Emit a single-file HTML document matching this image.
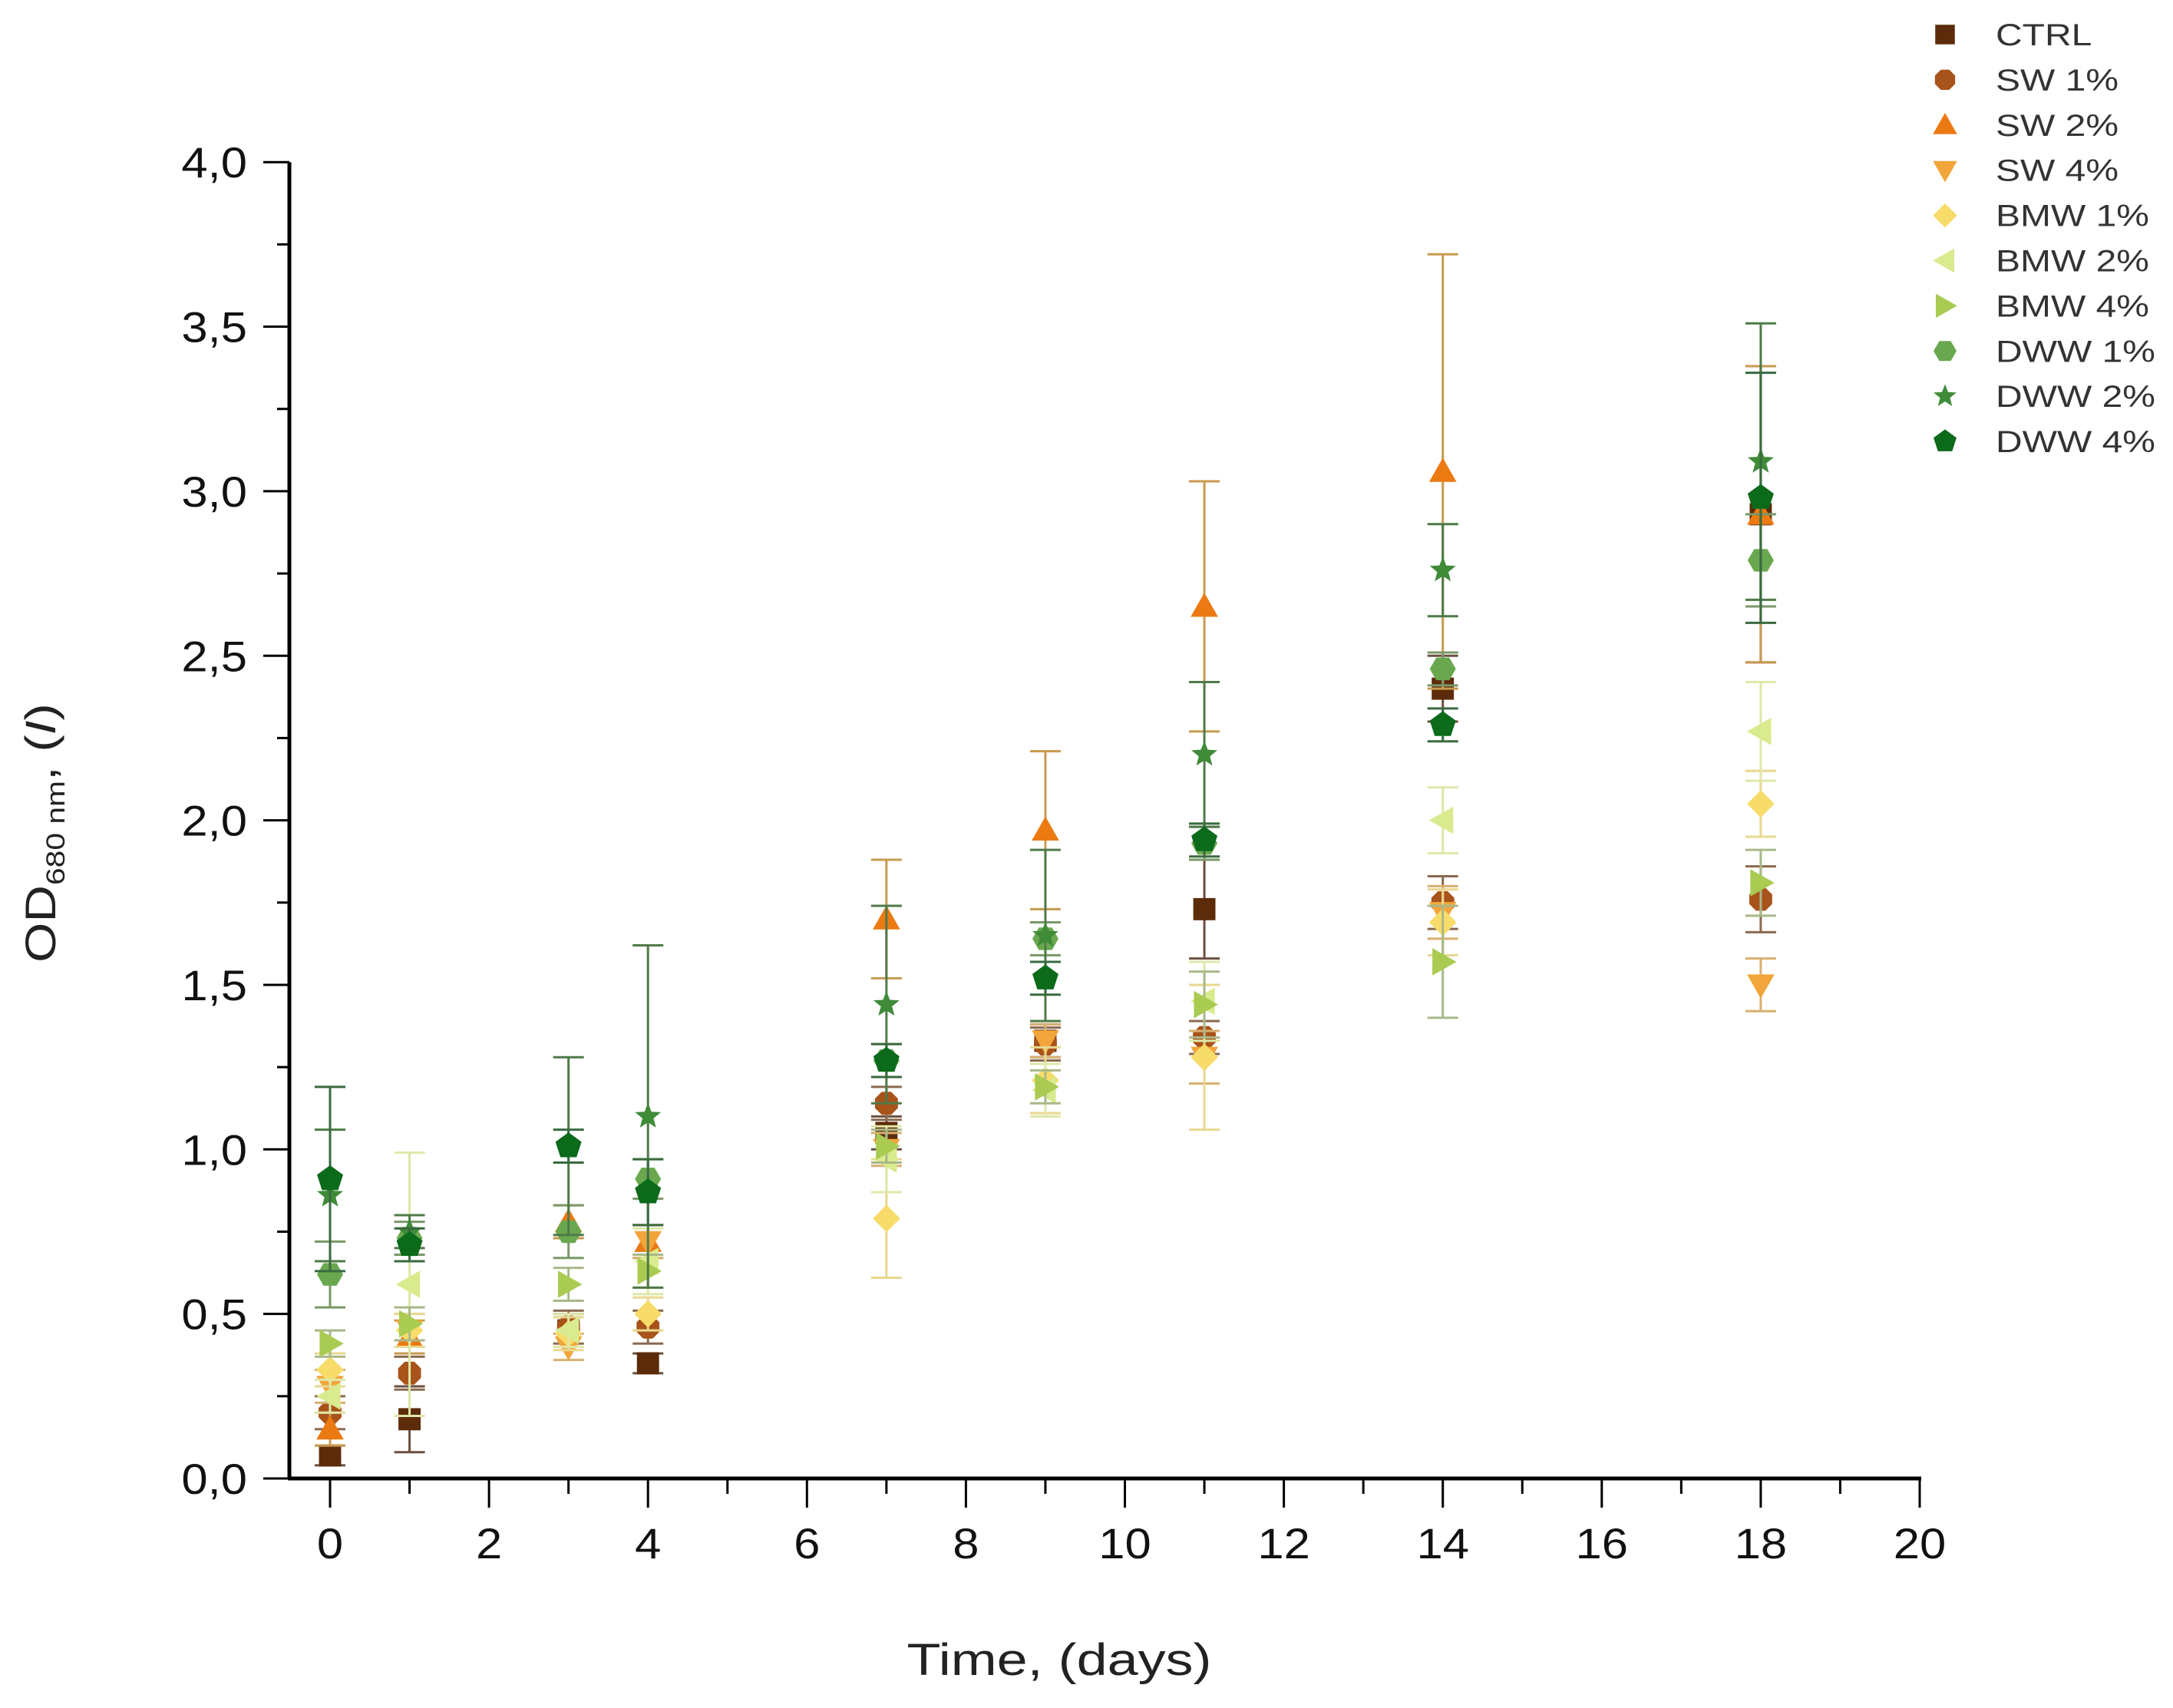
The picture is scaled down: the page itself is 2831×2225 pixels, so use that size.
<!DOCTYPE html>
<html><head><meta charset="utf-8"><style>
html,body{margin:0;padding:0;background:#fff;}
svg{display:block;font-family:"Liberation Sans",Arial,sans-serif;}
</style></head><body>
<svg id="chart" width="2831" height="2225" viewBox="0 0 2831 2225" xmlns="http://www.w3.org/2000/svg">
<g id="axes"></g>
<g id="series"></g>
<g id="legend"></g>
<text transform="translate(1380,2182) scale(1.24,1)" font-size="58" text-anchor="middle" fill="#222">Time, (days)</text>
<text transform="translate(72,1085) rotate(-90) scale(1.2,1)" font-size="56" text-anchor="middle" fill="#222">OD<tspan font-size="34" dy="12">680 nm</tspan><tspan dy="-12">, (</tspan><tspan font-style="italic">I</tspan>)</text>
</svg>
<script>
const days = [0,1,3,4,7,9,11,14,18];
const seriesNames = ["CTRL","SW 1%","SW 2%","SW 4%","BMW 1%","BMW 2%","BMW 4%","DWW 1%","DWW 2%","DWW 4%"];
const ctrlVals = [0.07,0.18,0.45,0.35,1.05,1.33,1.73,2.40,2.93];
const ctrlErr  = [0.03,0.10,0.05,0.03,0.05,0.05,0.15,0.10,0.45];
const sw1Vals = [0.20,0.32,0.46,0.46,1.14,1.32,1.34,1.75,1.76];
const sw1Err  = [0.05,0.05,0.05,0.05,0.05,0.05,0.05,0.08,0.10];
const sw2Vals = [0.15,0.43,0.78,0.72,1.70,1.97,2.65,3.06,2.93];
const sw2Err  = [0.05,0.05,0.05,0.05,0.18,0.24,0.38,0.66,0.45];
const sw4Vals = [0.28,0.45,0.40,0.72,1.00,1.33,1.28,1.72,1.50];
const sw4Err  = [0.05,0.05,0.04,0.05,0.05,0.05,0.08,0.08,0.08];
const bmw1Vals = [0.33,0.45,0.44,0.50,0.79,1.21,1.28,1.69,2.05];
const bmw1Err  = [0.05,0.05,0.05,0.05,0.18,0.10,0.22,0.10,0.10];
const bmw2Vals = [0.25,0.59,0.45,0.66,0.97,1.18,1.45,2.00,2.27];
const bmw2Err  = [0.05,0.40,0.05,0.10,0.10,0.08,0.12,0.10,0.15];
const bmw4Vals = [0.41,0.47,0.59,0.63,1.01,1.19,1.44,1.57,1.81];
const bmw4Err  = [0.04,0.05,0.05,0.05,0.05,0.05,0.10,0.17,0.10];
const dww1Vals = [0.62,0.73,0.75,0.91,1.27,1.64,1.93,2.46,2.79];
const dww1Err  = [0.10,0.05,0.08,0.06,0.05,0.05,0.05,0.05,0.14];
const dww2Vals = [0.86,0.75,1.01,1.10,1.44,1.65,2.20,2.76,3.09];
const dww2Err  = [0.20,0.05,0.27,0.52,0.30,0.26,0.22,0.14,0.42];
const dww4Vals = [0.91,0.71,1.01,0.87,1.27,1.52,1.94,2.29,2.98];
const dww4Err  = [0.28,0.05,0.05,0.10,0.05,0.05,0.05,0.05,0.38];
const xTickLabels = ["0","2","4","6","8","10","12","14","16","18","20"];
const yTickLabels = ["0,0","0,5","1,0","1,5","2,0","2,5","3,0","3,5","4,0"];

const allVals = [ctrlVals,sw1Vals,sw2Vals,sw4Vals,bmw1Vals,bmw2Vals,bmw4Vals,dww1Vals,dww2Vals,dww4Vals];
const allErr = [ctrlErr,sw1Err,sw2Err,sw4Err,bmw1Err,bmw2Err,bmw4Err,dww1Err,dww2Err,dww4Err];
const colors = ["#5c2c0a","#a8531a","#ec7a12","#f2a53a","#f7dc6a","#d9eb8e","#a9cb52","#6aa84f","#3f8b38","#0c6a1b"];
const errColors = ["#6b5040","#8a6a50","#c89a50","#d8b070","#e8d890","#dfe8a8","#a9b888","#7a9868","#4f7a48","#3a6a40"];
const shapes = ["square","circle","up","down","diamond","left","right","hex","star","pent"];

const X0=430, XS=103.55, Y0=1926, YS=428.7;
const xs = d => X0 + d*XS;
const ys = v => Y0 - v*YS;
const NS="http://www.w3.org/2000/svg";
function mk(tag, attrs, parent){const e=document.createElementNS(NS,tag);for(const k in attrs)e.setAttribute(k,attrs[k]);parent.appendChild(e);return e;}

const axes=document.getElementById('axes');
let ln=mk('line',{x1:377,y1:ys(4),x2:377,y2:Y0,stroke:'#000','stroke-width':5},axes);


ln=mk('line',{x1:375,y1:Y0,x2:xs(20)+2,y2:Y0,stroke:'#000','stroke-width':5},axes);


for(let i=0;i<=20;i++){
  const maj=i%2===0;
  const t=mk('line',{x1:xs(i),y1:Y0,x2:xs(i),y2:Y0+(maj?38:20),stroke:'#000','stroke-width':3},axes);
  
  
}
xTickLabels.forEach((l,i)=>{
  const t=mk('text',{transform:`translate(${xs(i*2)},${Y0+104}) scale(1.1,1)`,'font-size':56,'text-anchor':'middle',fill:'#111'},axes);
  t.textContent=l;
  
  
});
for(let i=0;i<=16;i++){
  const v=i*0.25, maj=i%2===0;
  const t=mk('line',{x1:377,y1:ys(v),x2:377-(maj?34:16),y2:ys(v),stroke:'#000','stroke-width':3},axes);
  
  
}
yTickLabels.forEach((l,i)=>{
  const t=mk('text',{transform:`translate(322,${ys(i*0.5)+20}) scale(1.1,1)`,'font-size':56,'text-anchor':'end',fill:'#111'},axes);
  t.textContent=l;
  
  
});

function marker(shape,cx,cy,r,fill,parent){
  let p;
  const poly=(pts)=>mk('polygon',{points:pts.map(a=>a.join(',')).join(' '),fill:fill},parent);
  const reg=(n,rot,rr)=>{const a=[];for(let k=0;k<n;k++){const t=rot+k*2*Math.PI/n;a.push([cx+rr*Math.cos(t),cy+rr*Math.sin(t)]);}return a;};
  switch(shape){
    case 'square': p=mk('rect',{x:cx-r*0.85,y:cy-r*0.85,width:r*1.7,height:r*1.7,fill:fill},parent);break;
    case 'circle': p=poly(reg(8,Math.PI/8,r*0.95));break;
    case 'up': p=poly([[cx,cy-r*1.05],[cx+r*1.05,cy+r*0.8],[cx-r*1.05,cy+r*0.8]]);break;
    case 'down': p=poly([[cx,cy+r*1.05],[cx+r*1.05,cy-r*0.8],[cx-r*1.05,cy-r*0.8]]);break;
    case 'diamond': p=poly([[cx,cy-r*1.05],[cx+r*1.05,cy],[cx,cy+r*1.05],[cx-r*1.05,cy]]);break;
    case 'left': p=poly([[cx-r*1.05,cy],[cx+r*0.8,cy-r*1.05],[cx+r*0.8,cy+r*1.05]]);break;
    case 'right': p=poly([[cx+r*1.05,cy],[cx-r*0.8,cy-r*1.05],[cx-r*0.8,cy+r*1.05]]);break;
    case 'hex': p=poly(reg(6,0,r));break;
    case 'pent': p=poly(reg(5,-Math.PI/2,r*1.05));break;
    case 'star': {const a=[];for(let k=0;k<10;k++){const t=-Math.PI/2+k*Math.PI/5;const rr=k%2?r*0.45:r*1.05;a.push([cx+rr*Math.cos(t),cy+rr*Math.sin(t)]);}p=poly(a);break;}
  }
  return p;
}

const sg=document.getElementById('series');
allVals.forEach((vals,s)=>{
  const g=mk('g',{},sg);
  
  
  vals.forEach((v,i)=>{
    const x=xs(days[i]), e=allErr[s][i];
    const eb=mk('path',{d:`M${x},${ys(v+e)}V${ys(v-e)}M${x-20},${ys(v+e)}h40M${x-20},${ys(v-e)}h40`,stroke:errColors[s],'stroke-width':3,fill:'none'},g);
    
    
  });
  vals.forEach((v,i)=>{
    const m=marker(shapes[s],xs(days[i]),ys(v),17,colors[s],g);
    
    
  });
});

const lg=document.getElementById('legend');
seriesNames.forEach((n,i)=>{
  const y=45+i*58.9;
  const g=mk('g',{},lg);
  
  
  marker(shapes[i],2534,y,15,colors[i],g);
  const t=mk('text',{transform:`translate(2600,${y+14}) scale(1.2,1)`,'font-size':40,fill:'#333'},g);
  t.textContent=n;
});
</script>
</body></html>
